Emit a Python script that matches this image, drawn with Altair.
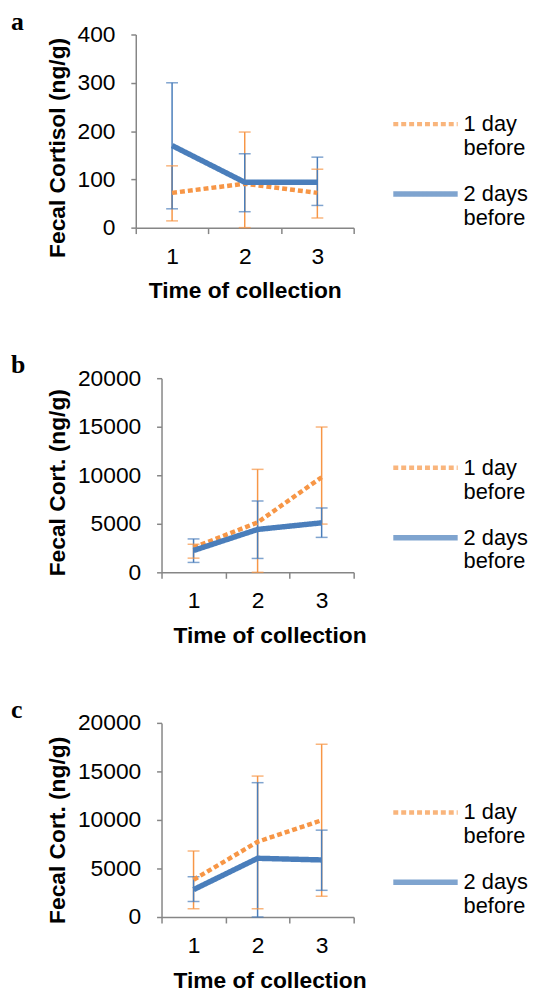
import altair as alt
import pandas as pd

# ---------------- data ----------------
times = [1, 2, 3]
series_names = ["1 day before", "2 days before"]

# panel a
a_day1_mean = [72, 91, 72]
a_day1_low = [14, 0, 20]
a_day1_high = [128, 198, 121]
a_day2_mean = [170, 94, 94]
a_day2_low = [39, 33, 46]
a_day2_high = [300, 153, 146]

# panel b
b_day1_mean = [2550, 5140, 9800]
b_day1_low = [1460, 0, 4970]
b_day1_high = [2890, 10610, 14970]
b_day2_mean = [2250, 4420, 5100]
b_day2_low = [1020, 1430, 3600]
b_day2_high = [3440, 7350, 6630]

# panel c
c_day1_mean = [3840, 7750, 9970]
c_day1_low = [850, 850, 2140]
c_day1_high = [6800, 14520, 17800]
c_day2_mean = [2820, 6050, 5880]
c_day2_low = [1600, 0, 2750]
c_day2_high = [4150, 13840, 8950]

# ---------------- style ----------------
FONT = "Liberation Sans"
ORANGE = "#F79646"
BLUE = "#4A7EBB"
AXIS_GRAY = "#868686"
FS = 23
W = 220


def panel(letter, d1m, d1l, d1h, d2m, d2l, d2h, ymax, ystep, ytitle,
          height, title_y, title_x, shift):
    df = pd.DataFrame({
        "time": times * 2,
        "series": [series_names[0]] * 3 + [series_names[1]] * 3,
        "mean": d1m + d2m,
        "low": d1l + d2l,
        "high": d1h + d2h,
    })
    legend = alt.Legend(
        title=None, orient="none", legendX=257, legendY=55.5,
        symbolType="stroke", symbolSize=4225, symbolStrokeWidth=5,
        labelFont=FONT, labelFontSize=22, labelColor="black",
        labelOffset=3, labelLimit=300, rowPadding=-12.5, padding=0,
        labelBaseline="middle",
        labelExpr="[replace(datum.label, ' before', ''), 'before']",
    )
    color = alt.Color("series:N",
                      scale=alt.Scale(domain=series_names, range=[ORANGE, BLUE]),
                      legend=legend)
    x_axis = alt.Axis(
        title="Time of collection", tickBand="extent", labelAngle=0,
        tickSize=6, labelPadding=12, titlePadding=12, titleX=title_x,
        grid=False,
    )
    xs = alt.Scale(type="band", paddingInner=0, paddingOuter=0, range=[shift, W])
    xenc = alt.X("time:O", scale=xs, axis=x_axis, bandPosition=0.5)
    y_axis = alt.Axis(
        title=ytitle, values=list(range(0, ymax + 1, ystep)), format="d",
        tickSize=5, labelPadding=16, titlePadding=8, titleY=title_y,
        grid=False, labelFlush=False, offset=-shift,
    )
    ys = alt.Scale(domain=[0, ymax], nice=False, zero=True)

    base = alt.Chart(df)
    rules = base.mark_rule(strokeWidth=1.5).encode(
        x=xenc,
        y=alt.Y("low:Q", scale=ys, axis=y_axis),
        y2="high:Q",
        color=color,
    )
    caps_lo = base.mark_tick(orient="horizontal", size=12, thickness=1.5).encode(
        x=xenc,
        y=alt.Y("low:Q", scale=ys, axis=y_axis),
        color=color,
    )
    caps_hi = base.mark_tick(orient="horizontal", size=12, thickness=1.5).encode(
        x=xenc,
        y=alt.Y("high:Q", scale=ys, axis=y_axis),
        color=color,
    )
    lines = base.mark_line(strokeCap="butt").encode(
        x=xenc,
        y=alt.Y("mean:Q", scale=ys, axis=y_axis),
        color=color,
        strokeDash=alt.StrokeDash("series:N",
                                  scale=alt.Scale(domain=series_names, range=[[5, 3], [1, 0]]),
                                  legend=legend),
        strokeWidth=alt.StrokeWidth("series:N",
                                    scale=alt.Scale(domain=series_names, range=[4.5, 5.5]),
                                    legend=None),
    )
    label = alt.Chart(pd.DataFrame({"letter": [letter]})).mark_text(
        font="Liberation Serif", fontWeight="bold", fontSize=26,
        align="left", baseline="alphabetic", color="black",
    ).encode(x=alt.value(-126), y=alt.value(-5), text="letter:N")

    return alt.layer(rules, caps_lo, caps_hi, lines, label).properties(
        width=W, height=height)


pa = panel("a", a_day1_mean, a_day1_low, a_day1_high, a_day2_mean, a_day2_low, a_day2_high,
           400, 100, "Fecal Cortisol (ng/g)", 195, 114, 110, 0)
pb = panel("b", b_day1_mean, b_day1_low, b_day1_high, b_day2_mean, b_day2_low, b_day2_high,
           20000, 5000, "Fecal Cort. (ng/g)", 196, 105, 135, 26)
pc = panel("c", c_day1_mean, c_day1_low, c_day1_high, c_day2_mean, c_day2_low, c_day2_high,
           20000, 5000, "Fecal Cort. (ng/g)", 196, 108, 135, 26)

chart = alt.vconcat(pa, pb, pc, spacing=50).resolve_scale(
    color="independent", strokeDash="independent", strokeWidth="independent",
    x="independent", y="independent",
).properties(
    padding={"left": 3, "top": -4, "right": 0, "bottom": 0},
    background="white",
).configure_axis(
    labelFont=FONT, labelFontSize=FS, labelColor="black",
    titleFont=FONT, titleFontSize=FS, titleFontWeight="bold", titleColor="black",
    domainColor=AXIS_GRAY, domainWidth=1.5, tickColor=AXIS_GRAY, tickWidth=1.5,
).configure_view(stroke=None)

chart.save("out.html", embed_options={"renderer": "svg", "actions": False})
